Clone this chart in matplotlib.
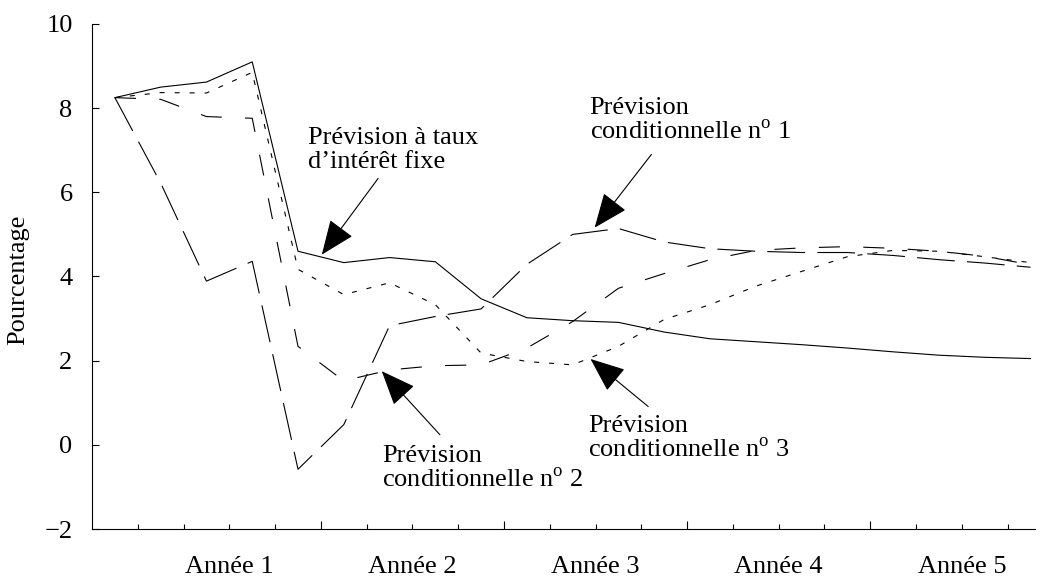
import numpy as np
import matplotlib.pyplot as plt

plt.rcParams['font.family'] = ['Liberation Serif', 'DejaVu Serif']
plt.rcParams['mathtext.fontset'] = 'custom'
plt.rcParams['mathtext.rm'] = 'Liberation Serif'

# trimestres : premier point = dernier trimestre avant l'annee 1
trimestres = np.arange(21) + 0.5

fixe = [8.25, 8.5, 8.62, 9.1, 4.6, 4.33, 4.45, 4.35, 3.47, 3.02, 2.95,
        2.91, 2.68, 2.52, 2.45, 2.38, 2.3, 2.21, 2.13, 2.08, 2.05]
cond1 = [8.25, 6.22, 3.89, 4.36, -0.58, 0.48, 2.83, 3.05, 3.23, 4.29, 5.0,
         5.14, 4.82, 4.66, 4.6, 4.57, 4.57, 4.5, 4.4, 4.32, 4.22]
cond2 = [8.25, 8.21, 7.8, 7.76, 2.34, 1.52, 1.78, 1.88, 1.9, 2.3, 2.93,
         3.72, 4.07, 4.4, 4.62, 4.68, 4.71, 4.67, 4.6, 4.48, 4.28]
cond3 = [8.25, 8.37, 8.36, 8.85, 4.17, 3.57, 3.85, 3.33, 2.18, 1.98, 1.9,
         2.34, 2.98, 3.33, 3.77, 4.12, 4.47, 4.62, 4.6, 4.47, 4.33]

annees = ['Année 1', 'Année 2', 'Année 3', 'Année 4', 'Année 5']
centres_annees = [3, 7, 11, 15, 19]

taille = 19

fig = plt.figure(figsize=(10.42, 5.81), dpi=100)
ax = fig.add_axes([0.0883, 0.0895, 0.905, 0.8692])

lw = 0.8
ax.plot(trimestres, fixe, color='black', lw=lw, linestyle='-')
ax.plot(trimestres, cond1, color='black', lw=lw, linestyle=(0, (34, 11)))
ax.plot(trimestres, cond2, color='black', lw=lw, linestyle=(0, (19, 21)))
ax.plot(trimestres, cond3, color='black', lw=lw, linestyle=(0, (4.5, 9)))

ax.set_xlim(0, 20.6)
ax.set_ylim(-2, 10)
ax.spines['top'].set_visible(False)
ax.spines['right'].set_visible(False)
ax.spines['left'].set_linewidth(0.8)
ax.spines['bottom'].set_linewidth(0.8)

ax.set_yticks(np.arange(-2, 11, 2))
ax.set_yticklabels(['\u22122', '0', '2', '4', '6', '8', '10'])
ax.tick_params(axis='y', direction='in', length=5, width=0.8, pad=14, labelsize=taille)
ax.set_xticks([5, 9, 13, 17])
ax.set_xticks(np.arange(1, 21), minor=True)
ax.set_xticklabels([])
ax.tick_params(axis='x', which='major', direction='in', length=6, width=0.8)
ax.tick_params(axis='x', which='minor', direction='in', length=3.5, width=0.8)

for c, a in zip(centres_annees, annees):
    ax.text(c, -0.075, a, transform=ax.get_xaxis_transform(),
            ha='center', va='center', fontsize=taille)

fig.text(0.0173, 0.518, 'Pourcentage', rotation=90, ha='center', va='center', fontsize=taille)

fleche = dict(arrowstyle='-|>,head_length=1.1,head_width=0.45', mutation_scale=20,
              color='black', lw=0.8, shrinkA=0, shrinkB=0)
ax.annotate('', xy=(5.02, 4.52), xytext=(6.25, 6.33), arrowprops=fleche)
ax.annotate('', xy=(10.98, 5.16), xytext=(12.22, 6.9), arrowprops=fleche)
ax.annotate('', xy=(10.89, 2.04), xytext=(12.15, 0.91), arrowprops=fleche)
ax.annotate('', xy=(6.33, 1.75), xytext=(7.6, 0.24), arrowprops=fleche)

ax.text(4.72, 6.58, 'Prévision à taux\nd\u2019intérêt fixe', fontsize=taille,
        ha='left', va='baseline', linespacing=1.1)
ax.text(10.87, 7.25, 'Prévision\nconditionnelle n$^{\\rm o}$ 1', fontsize=taille,
        ha='left', va='baseline', linespacing=1.1)
ax.text(10.83, -0.31, 'Prévision\nconditionnelle n$^{\\rm o}$ 3', fontsize=taille,
        ha='left', va='baseline', linespacing=1.1)
ax.text(6.33, -1.02, 'Prévision\nconditionnelle n$^{\\rm o}$ 2', fontsize=taille,
        ha='left', va='baseline', linespacing=1.1)

fig.savefig('out.png', dpi=100)
